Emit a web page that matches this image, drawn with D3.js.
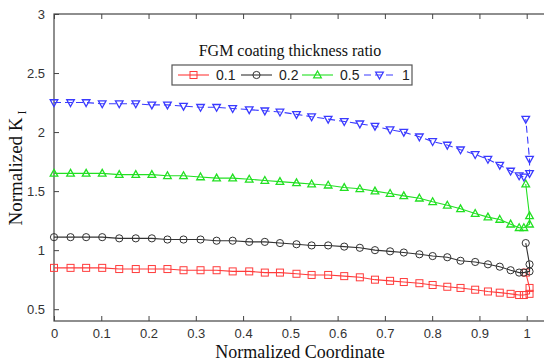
<!DOCTYPE html>
<html>
<head>
<meta charset="utf-8">
<script src="https://cdn.jsdelivr.net/npm/d3@7"></script>
<style>
  html, body { margin: 0; padding: 0; background: #fff; }
  svg { display: block; }
</style>
</head>
<body>
<div id="chart"></div>
<script>
// Normalized K_I along the crack front, per FGM coating thickness ratio

// shared x positions of the main curve
const xs = [0, 0.035, 0.068, 0.102, 0.138, 0.173, 0.207, 0.24, 0.274, 0.31,
	0.344, 0.378, 0.413, 0.446, 0.478, 0.513, 0.545, 0.58, 0.614, 0.647,
	0.679, 0.711, 0.74, 0.773, 0.801, 0.832, 0.86, 0.891, 0.918, 0.943,
	0.966, 0.984, 0.994];
// the few points bunched at the free surface (x ~ 1)
const tailXs = [1.006, 1.006, 0.998];

const seriesNames = ['0.1', '0.2', '0.5', '1'];

const k01 = [0.85, 0.85, 0.85, 0.85, 0.84, 0.84, 0.84, 0.84, 0.83, 0.83,
	0.83, 0.82, 0.82, 0.81, 0.81, 0.80, 0.79, 0.79, 0.78, 0.77,
	0.75, 0.74, 0.73, 0.72, 0.705, 0.69, 0.68, 0.665, 0.65, 0.64,
	0.63, 0.62, 0.62];
const k01Tail = [0.63, 0.68, 0.81];

const k02 = [1.11, 1.11, 1.11, 1.11, 1.10, 1.10, 1.10, 1.09, 1.09, 1.09,
	1.08, 1.08, 1.07, 1.07, 1.06, 1.05, 1.04, 1.04, 1.03, 1.02,
	1.00, 0.99, 0.98, 0.965, 0.95, 0.94, 0.91, 0.90, 0.88, 0.86,
	0.83, 0.81, 0.81];
const k02Tail = [0.82, 0.88, 1.06];

const k05 = [1.65, 1.65, 1.65, 1.65, 1.64, 1.64, 1.64, 1.63, 1.63, 1.62,
	1.61, 1.61, 1.60, 1.59, 1.58, 1.57, 1.56, 1.55, 1.53, 1.52,
	1.50, 1.48, 1.46, 1.44, 1.41, 1.38, 1.35, 1.31, 1.28, 1.26,
	1.22, 1.19, 1.19];
const k05Tail = [1.22, 1.29, 1.56];

const k1 = [2.25, 2.25, 2.25, 2.24, 2.24, 2.24, 2.23, 2.23, 2.22, 2.21,
	2.21, 2.20, 2.19, 2.18, 2.17, 2.15, 2.13, 2.11, 2.09, 2.07,
	2.05, 2.02, 2.00, 1.96, 1.92, 1.89, 1.85, 1.81, 1.77, 1.72,
	1.67, 1.63, 1.62];
const k1Tail = [1.65, 1.77, 2.11];

const xTicks = [0, 0.1, 0.2, 0.3, 0.4, 0.5, 0.6, 0.7, 0.8, 0.9, 1];
const yTicks = [0.5, 1, 1.5, 2, 2.5, 3];

const width = 544;
const height = 364;
const margin = { top: 14, right: -10, bottom: 43, left: 54 };

const svg = d3.select('#chart')
	.append('svg')
	.attr('width', width)
	.attr('height', height);

const x = d3.scaleLinear()
	.domain([0, 1])
	.range([margin.left, margin.left + 472.7]);
const xMax = width - margin.right;
const y = d3.scaleLinear()
	.domain([0.4, 3])
	.range([height - margin.bottom, margin.top]);

const axisColor = '#444';
const tickFont = '"Liberation Sans", Arial, sans-serif';
const serifFont = '"Liberation Serif", "Times New Roman", serif';

// frame
svg.append('rect')
	.attr('x', x(0))
	.attr('y', y(3))
	.attr('width', xMax - x(0))
	.attr('height', y(0.4) - y(3))
	.attr('fill', 'none')
	.attr('stroke', axisColor)
	.attr('stroke-width', 1.2);

// axes with inward ticks (mirrored on top)
function styleAxis(g) {
	g.select('.domain').remove();
	g.selectAll('.tick line').attr('stroke', axisColor);
	g.selectAll('.tick text')
		.attr('fill', '#333')
		.attr('font-family', tickFont)
		.attr('font-size', 13);
}

svg.append('g')
	.attr('transform', `translate(0,${y(0.4)})`)
	.call(d3.axisBottom(x).tickValues(xTicks).tickSize(-5).tickPadding(8)
		.tickFormat(d3.format('')))
	.call(styleAxis);

svg.append('g')
	.attr('transform', `translate(0,${y(3)})`)
	.call(d3.axisTop(x).tickValues(xTicks).tickSize(-5).tickFormat(''))
	.call(styleAxis);

svg.append('g')
	.attr('transform', `translate(${x(0)},0)`)
	.call(d3.axisLeft(y).tickValues(yTicks).tickSize(-5).tickPadding(9)
		.tickFormat(d3.format('')))
	.call(styleAxis);

// series definitions
const series = [
	{ name: seriesNames[0], ys: k01, tail: k01Tail, color: '#ff3b3b', symbol: 'square', dash: null },
	{ name: seriesNames[1], ys: k02, tail: k02Tail, color: '#333333', symbol: 'circle', dash: null },
	{ name: seriesNames[2], ys: k05, tail: k05Tail, color: '#22e022', symbol: 'up', dash: null },
	{ name: seriesNames[3], ys: k1, tail: k1Tail, color: '#3a3aff', symbol: 'down', dash: '7,4' },
];

function points(s) {
	const main = xs.map((xv, i) => [xv, s.ys[i]]);
	const tail = tailXs.map((xv, i) => [xv, s.tail[i]]);
	return main.concat(tail);
}

function drawMarker(g, symbol, color) {
	if (symbol === 'square') {
		g.append('rect')
			.attr('x', -3.5).attr('y', -3.5)
			.attr('width', 7).attr('height', 7)
			.attr('fill', 'none').attr('stroke', color).attr('stroke-width', 1);
	} else if (symbol === 'circle') {
		g.append('circle')
			.attr('r', 3.6)
			.attr('fill', 'none').attr('stroke', color).attr('stroke-width', 1);
	} else if (symbol === 'up') {
		g.append('path')
			.attr('d', 'M0,-4 L3.8,2.8 L-3.8,2.8 Z')
			.attr('fill', 'none').attr('stroke', color).attr('stroke-width', 1.3);
	} else {
		g.append('path')
			.attr('d', 'M0,4 L3.8,-2.8 L-3.8,-2.8 Z')
			.attr('fill', 'none').attr('stroke', color).attr('stroke-width', 1.3);
	}
}

const line = d3.line()
	.x((d) => x(d[0]))
	.y((d) => y(d[1]));

const plot = svg.append('g');

series.forEach((s) => {
	const pts = points(s);
	plot.append('path')
		.datum(pts)
		.attr('d', line)
		.attr('fill', 'none')
		.attr('stroke', s.color)
		.attr('stroke-width', 1.1)
		.attr('stroke-dasharray', s.dash);

	plot.selectAll(null)
		.data(pts)
		.enter()
		.append('g')
		.attr('transform', (d) => `translate(${x(d[0])},${y(d[1])})`)
		.each(function () {
			drawMarker(d3.select(this), s.symbol, s.color);
		});
});

// legend
svg.append('text')
	.attr('x', 290)
	.attr('y', 56)
	.attr('text-anchor', 'middle')
	.attr('font-family', serifFont)
	.attr('font-size', 16)
	.attr('fill', '#111')
	.text('FGM coating thickness ratio');

const legend = svg.append('g').attr('transform', 'translate(172,65)');
legend.append('rect')
	.attr('width', 240)
	.attr('height', 20)
	.attr('fill', '#fff')
	.attr('stroke', '#555')
	.attr('stroke-width', 1.2);

const legendX = [6, 69, 130, 192];
series.forEach((s, i) => {
	const g = legend.append('g').attr('transform', `translate(${legendX[i]},10)`);
	g.append('line')
		.attr('x1', 0).attr('x2', 31)
		.attr('stroke', s.color)
		.attr('stroke-width', 1.1)
		.attr('stroke-dasharray', s.dash);
	drawMarker(g.append('g').attr('transform', 'translate(15.5,0)'), s.symbol, s.color);
	g.append('text')
		.attr('x', 38)
		.attr('y', 5)
		.attr('font-family', tickFont)
		.attr('font-size', 14)
		.attr('fill', '#222')
		.text(s.name);
});

// axis titles
svg.append('text')
	.attr('x', 300)
	.attr('y', 358)
	.attr('text-anchor', 'middle')
	.attr('font-family', serifFont)
	.attr('font-size', 18)
	.attr('fill', '#111')
	.text('Normalized Coordinate');

const yTitle = svg.append('text')
	.attr('transform', 'translate(22,168) rotate(-90)')
	.attr('text-anchor', 'middle')
	.attr('font-family', serifFont)
	.attr('font-size', 19)
	.attr('fill', '#111');
yTitle.append('tspan').text('Normalized K');
yTitle.append('tspan').attr('dy', 4).attr('dx', 3).attr('font-size', 12).text('I');
</script>
</body>
</html>
